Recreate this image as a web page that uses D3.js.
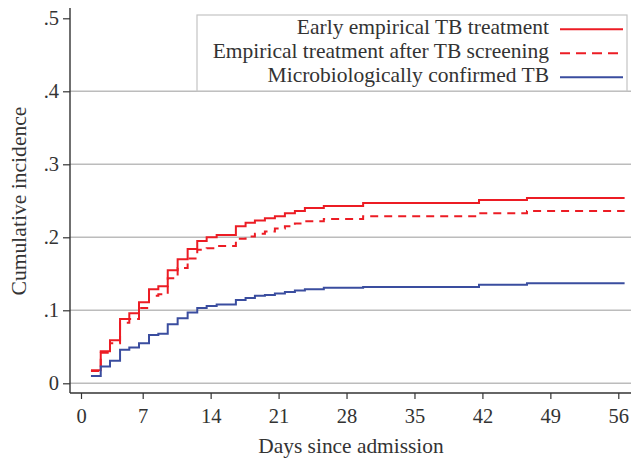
<!DOCTYPE html>
<html>
<head>
<meta charset="utf-8">
<script src="https://cdn.jsdelivr.net/npm/d3@7"></script>
<style>
  body { margin: 0; background: #fff; }
  text { font-family: "Liberation Serif", "DejaVu Serif", serif; fill: #333; }
</style>
</head>
<body>
<svg id="chart"></svg>
<script>
// Chart size and plot box
const width = 633;
const height = 458;
const plot = { left: 70, right: 631, top: 8, bottom: 393 };

// Data: step times (days) and cumulative incidence after each step
const stepDays = [1.13, 2.24, 3.29, 4.43, 5.48, 6.58, 7.65, 8.61, 9.58, 10.6, 11.63, 12.62, 13.59,
  14.62, 16.6, 17.6, 18.56, 19.59, 20.62, 21.65, 22.68, 23.71, 25.66, 29.71, 41.65, 46.59];
const endDay = 56.65;

const earlyEmpirical = [0.018, 0.044, 0.059, 0.088, 0.096, 0.111, 0.129, 0.133, 0.155, 0.170, 0.184,
  0.195, 0.200, 0.203, 0.215, 0.220, 0.223, 0.226, 0.229, 0.233, 0.236, 0.240, 0.243, 0.247, 0.251, 0.254];
const afterScreening = [0.017, 0.042, 0.055, 0.083, 0.088, 0.103, 0.120, 0.122, 0.144, 0.158, 0.171,
  0.183, 0.185, 0.188, 0.198, 0.201, 0.205, 0.208, 0.212, 0.215, 0.219, 0.222, 0.225, 0.229, 0.233, 0.236];
const microConfirmed = [0.010, 0.023, 0.031, 0.046, 0.049, 0.055, 0.066, 0.068, 0.081, 0.089, 0.097,
  0.103, 0.106, 0.108, 0.114, 0.117, 0.120, 0.121, 0.123, 0.125, 0.127, 0.129, 0.131, 0.132, 0.135, 0.137];

const seriesNames = ["Early empirical TB treatment", "Empirical treatment after TB screening", "Microbiologically confirmed TB"];
const seriesValues = [earlyEmpirical, afterScreening, microConfirmed];
const seriesColors = ["#ec1c24", "#ec1c24", "#3a4d9f"];
const seriesDash = [null, "8,6", null];

const xTicks = [0, 7, 14, 21, 28, 35, 42, 49, 56];
const yTicks = [0, 0.1, 0.2, 0.3, 0.4, 0.5];
const yGrid = [0, 0.1, 0.2, 0.3, 0.4];

// Scales (x is piecewise to follow the original axis)
const x = d3.scaleLinear().domain([0, 7, 56]).range([81, 142.7, 618.3]);
const y = d3.scaleLinear().domain([0, 0.5]).range([383.3, 18.3]);

const svg = d3.select("#chart").attr("width", width).attr("height", height);

// Gridlines
svg.append("g").selectAll("line")
  .data(yGrid)
  .enter()
  .append("line")
  .attr("x1", plot.left)
  .attr("x2", plot.right)
  .attr("y1", d => y(d))
  .attr("y2", d => y(d))
  .attr("stroke", "#bcbcbc")
  .attr("stroke-width", 1.4);

// Step curves
const line = d3.line()
  .x(d => x(d[0]))
  .y(d => y(d[1]))
  .curve(d3.curveStepAfter);

seriesValues.forEach((vals, i) => {
  const pts = stepDays.map((t, j) => [t, vals[j]]);
  pts.push([endDay, vals[vals.length - 1]]);
  svg.append("path")
    .datum(pts)
    .attr("fill", "none")
    .attr("stroke", seriesColors[i])
    .attr("stroke-width", 2)
    .attr("stroke-dasharray", seriesDash[i])
    .attr("d", line);
});

// Axes
const yAxis = svg.append("g")
  .attr("transform", "translate(" + plot.left + ",0)")
  .call(d3.axisLeft(y).tickValues(yTicks).tickSize(7).tickPadding(4).tickSizeOuter(0)
    .tickFormat(d => d === 0 ? "0" : d3.format(".1f")(d).replace(/^0/, "")));

const xAxis = svg.append("g")
  .attr("transform", "translate(0," + plot.bottom + ")")
  .call(d3.axisBottom(x).tickValues(xTicks).tickSize(6).tickPadding(9).tickSizeOuter(0));

[yAxis, xAxis].forEach(g => {
  g.select(".domain").remove();
  g.selectAll("line").attr("stroke", "#333").attr("stroke-width", 1.2);
  g.selectAll("text")
    .style("font-family", "'Liberation Serif', serif")
    .style("font-size", "20.5px")
    .attr("fill", "#333");
});

svg.append("line")
  .attr("x1", plot.left).attr("x2", plot.left)
  .attr("y1", plot.top).attr("y2", plot.bottom)
  .attr("stroke", "#333").attr("stroke-width", 1.4);

svg.append("line")
  .attr("x1", plot.left).attr("x2", plot.right)
  .attr("y1", plot.bottom).attr("y2", plot.bottom)
  .attr("stroke", "#333").attr("stroke-width", 1.4);

// Axis titles
svg.append("text")
  .attr("transform", "translate(26,201) rotate(-90)")
  .attr("text-anchor", "middle")
  .style("font-size", "21.6px")
  .text("Cumulative incidence");

svg.append("text")
  .attr("x", 351)
  .attr("y", 453)
  .attr("text-anchor", "middle")
  .style("font-size", "21.4px")
  .text("Days since admission");

// Legend
const legend = svg.append("g");

legend.append("rect")
  .attr("x", 197)
  .attr("y", 15)
  .attr("width", 430)
  .attr("height", 76)
  .attr("fill", "#fff")
  .attr("stroke", "#c4c4c4")
  .attr("stroke-width", 1.2);

seriesNames.forEach((name, i) => {
  const by = 34.3 + i * 24;
  legend.append("text")
    .attr("x", 549)
    .attr("y", by)
    .attr("text-anchor", "end")
    .style("font-size", "21.5px")
    .text(name);
  legend.append("line")
    .attr("x1", 560)
    .attr("x2", 623)
    .attr("y1", by - 5)
    .attr("y2", by - 5)
    .attr("stroke", seriesColors[i])
    .attr("stroke-width", 2)
    .attr("stroke-dasharray", seriesDash[i] ? "10,6" : null);
});
</script>
</body>
</html>
